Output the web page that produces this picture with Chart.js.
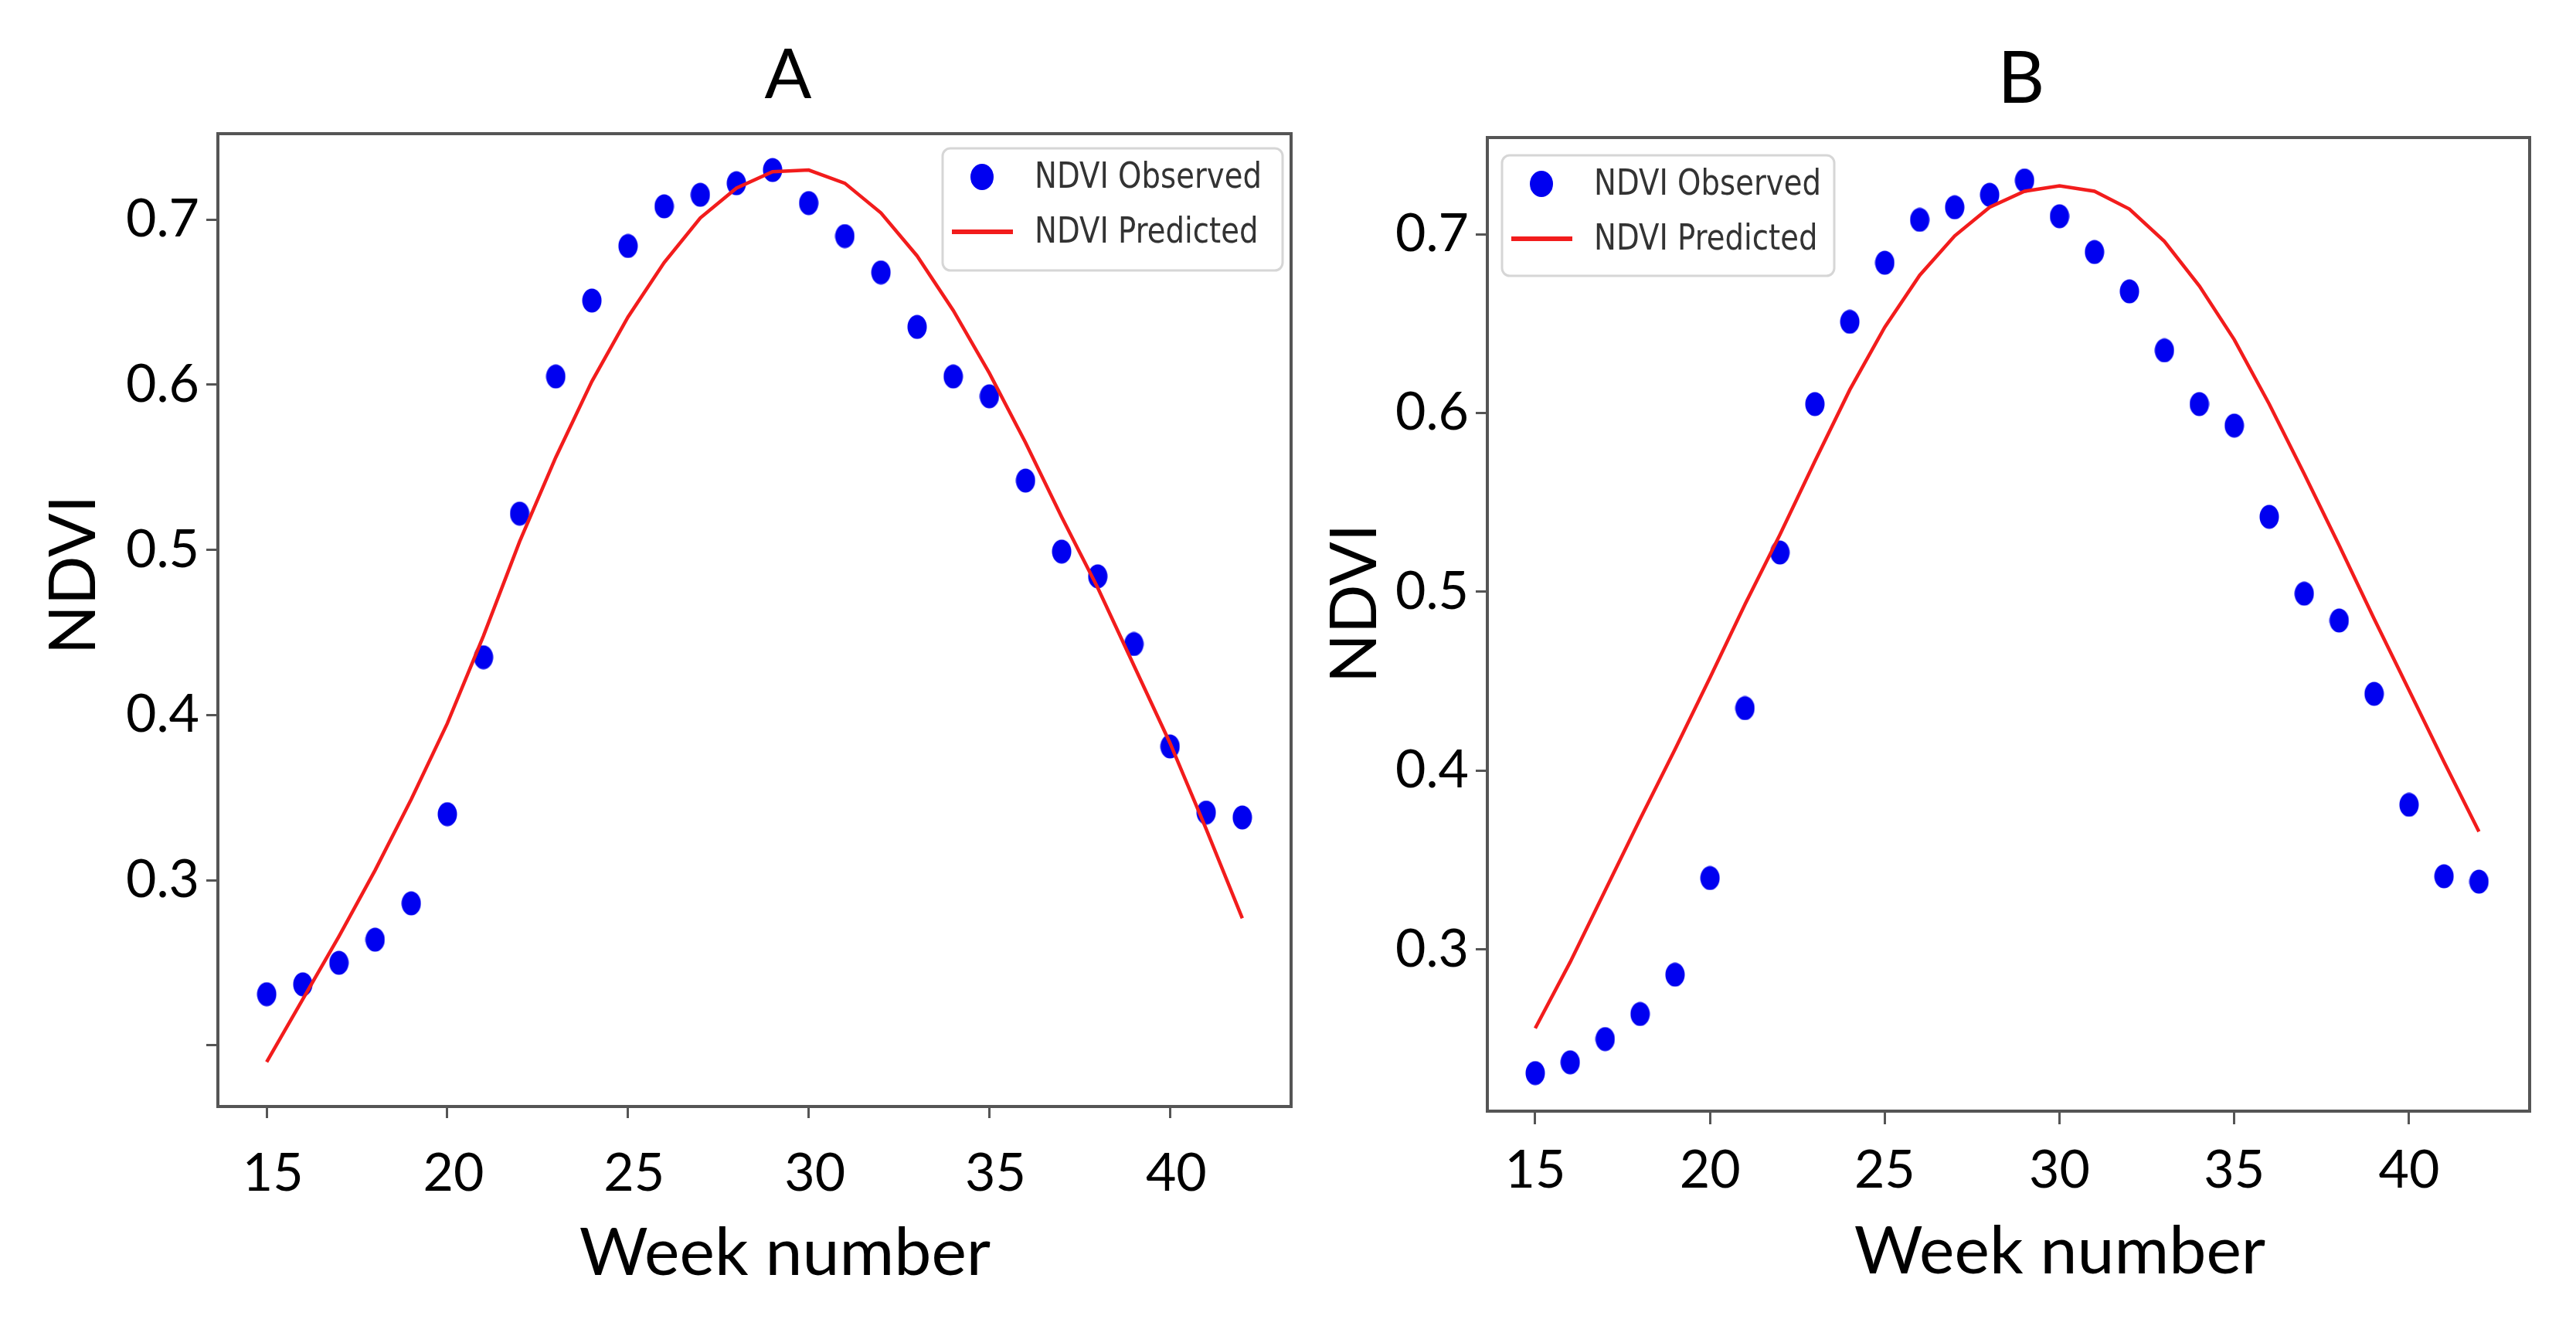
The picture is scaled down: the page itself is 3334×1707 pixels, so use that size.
<!DOCTYPE html>
<html lang="en">
<head>
  <meta charset="UTF-8">
  <title>NDVI Observed vs Predicted</title>
  <script src="https://cdn.jsdelivr.net/npm/chart.js"></script>
  <style>
    html, body { margin: 0; padding: 0; background: #fff; }
    #page { position: relative; width: 3334px; height: 1707px; }
    .panel { position: absolute; top: 0; }
  </style>
</head>
<body>
  <div id="page">
    <div class="panel" style="left:0px"><canvas id="chartA" width="1700" height="1707"></canvas></div>
    <div class="panel" style="left:1700px"><canvas id="chartB" width="1634" height="1707"></canvas></div>
  </div>

  <script>
    // data
    const weeks = [15, 16, 17, 18, 19, 20, 21, 22, 23, 24, 25, 26, 27, 28,
                   29, 30, 31, 32, 33, 34, 35, 36, 37, 38, 39, 40, 41, 42];
    const observedNdvi = [0.231, 0.237, 0.250, 0.264, 0.286, 0.340, 0.435, 0.522, 0.605, 0.651,
                          0.684, 0.708, 0.715, 0.722, 0.730, 0.710, 0.690, 0.668, 0.635, 0.605,
                          0.593, 0.542, 0.499, 0.484, 0.443, 0.381, 0.341, 0.338];
    const predictedA = [0.190, 0.228, 0.266, 0.306, 0.349, 0.395, 0.448, 0.505, 0.556, 0.602,
                        0.641, 0.674, 0.701, 0.719, 0.729, 0.730, 0.722, 0.704, 0.678, 0.645,
                        0.607, 0.565, 0.520, 0.477, 0.430, 0.383, 0.331, 0.277];
    const predictedB = [0.256, 0.293, 0.333, 0.373, 0.412, 0.452, 0.493, 0.532, 0.573, 0.613,
                        0.648, 0.677, 0.699, 0.715, 0.724, 0.727, 0.724, 0.714, 0.696, 0.671,
                        0.641, 0.605, 0.566, 0.526, 0.485, 0.445, 0.405, 0.366];

    const xTickValues = [15, 20, 25, 30, 35, 40];
    const yTickValues = [0.2, 0.3, 0.4, 0.5, 0.6, 0.7];
    const yTickLabelsA = ['', '0.3', '0.4', '0.5', '0.6', '0.7'];
    const yTickLabelsB = ['0.2', '0.3', '0.4', '0.5', '0.6', '0.7'];
    const seriesLabels = ['NDVI Observed', 'NDVI Predicted'];
    const xAxisTitle = 'Week number';
    const yAxisTitle = 'NDVI';

    const BLUE = '#0000f0';
    const RED = '#f21c1c';
    const FRAME = '#555555';

    // slightly tall blue dot, like the figure's markers
    function makeDot(w, h) {
      const c = document.createElement('canvas');
      c.width = w; c.height = h;
      const g = c.getContext('2d');
      g.fillStyle = BLUE;
      g.beginPath();
      g.ellipse(w / 2, h / 2, w / 2 - 0.5, h / 2 - 0.5, 0, 0, Math.PI * 2);
      g.fill();
      return c;
    }
    const dot = makeDot(26, 32);

    const framePlugin = {
      id: 'frame',
      afterDraw(chart) {
        const { ctx, chartArea: a } = chart;
        ctx.save();
        ctx.strokeStyle = FRAME;
        ctx.lineWidth = 4;
        ctx.strokeRect(a.left, a.top, a.right - a.left, a.bottom - a.top);
        ctx.restore();
      }
    };

    const legendPlugin = {
      id: 'boxLegend',
      afterDatasetsDraw(chart, args, o) {
        const { ctx, chartArea: a } = chart;
        const x0 = o.side === 'right' ? a.right - o.dx - o.width : a.left + o.dx;
        const y0 = a.top + o.dy;
        ctx.save();
        ctx.beginPath();
        ctx.roundRect(x0, y0, o.width, o.height, 10);
        ctx.fillStyle = 'rgba(255,255,255,0.85)';
        ctx.fill();
        ctx.lineWidth = 3;
        ctx.strokeStyle = '#d6d6d6';
        ctx.stroke();
        chart.data.datasets.forEach((ds, i) => {
          const cy = y0 + (i === 0 ? 37 : 108);
          if (ds.showLine) {
            ctx.strokeStyle = ds.borderColor;
            ctx.lineWidth = 6;
            ctx.beginPath();
            ctx.moveTo(x0 + 12, cy);
            ctx.lineTo(x0 + 91, cy);
            ctx.stroke();
          } else {
            ctx.fillStyle = ds.backgroundColor;
            ctx.beginPath();
            ctx.ellipse(x0 + 51, cy, 15, 17, 0, 0, Math.PI * 2);
            ctx.fill();
          }
          ctx.save();
          ctx.translate(x0 + 119, cy);
          ctx.scale(0.84, 1);
          ctx.fillStyle = '#333';
          ctx.font = '46px "DejaVu Sans"';
          ctx.textBaseline = 'middle';
          ctx.fillText(ds.label, 0, 2);
          ctx.restore();
        });
        ctx.restore();
      }
    };

    const textPlugin = {
      id: 'panelText',
      afterDraw(chart, args, o) {
        const ctx = chart.ctx;
        o.items.forEach(t => {
          ctx.save();
          ctx.translate(t.x, t.y);
          if (t.rotate) ctx.rotate(-Math.PI / 2);
          ctx.font = t.size + 'px Lato';
          ctx.fillStyle = '#000';
          ctx.textAlign = 'center';
          ctx.textBaseline = 'middle';
          ctx.fillText(t.text, 0, 0);
          ctx.restore();
        });
      }
    };

    function buildPanel(cfg) {
      const ctx = document.getElementById(cfg.id).getContext('2d');
      new Chart(ctx, {
        type: 'scatter',
        data: {
          datasets: [{
            label: seriesLabels[0],
            data: weeks.map((w, i) => ({ x: w, y: observedNdvi[i] })),
            pointStyle: dot,
            backgroundColor: BLUE,
            borderColor: BLUE,
            order: 2
          }, {
            label: seriesLabels[1],
            data: weeks.map((w, i) => ({ x: w, y: cfg.predicted[i] })),
            showLine: true,
            borderColor: RED,
            backgroundColor: RED,
            borderWidth: 4.5,
            pointRadius: 0,
            tension: 0,
            fill: false,
            order: 1
          }]
        },
        options: {
          responsive: false,
          animation: false,
          events: [],
          layout: { padding: { top: cfg.padTop, right: cfg.padRight, left: 0, bottom: 0 } },
          scales: {
            x: {
              type: 'linear',
              min: cfg.xMin,
              max: cfg.xMax,
              afterBuildTicks: axis => { axis.ticks = xTickValues.map(v => ({ value: v })); },
              afterFit: axis => { axis.height = cfg.xAxisHeight; },
              border: { display: false },
              grid: { drawOnChartArea: false, drawTicks: true, tickLength: cfg.tickLen, color: FRAME, lineWidth: 3 },
              ticks: {
                color: '#000',
                font: { family: 'Lato', size: 68 },
                padding: cfg.xLabelPad,
                labelOffset: cfg.xLabelShift,
                maxRotation: 0,
                callback: v => String(v)
              }
            },
            y: {
              type: 'linear',
              min: cfg.yMin,
              max: cfg.yMax,
              afterBuildTicks: axis => {
                axis.ticks = yTickValues.filter(v => v >= cfg.yMin && v <= cfg.yMax).map(v => ({ value: v }));
              },
              afterFit: axis => { axis.width = cfg.yAxisWidth; },
              border: { display: false },
              grid: { drawOnChartArea: false, drawTicks: true, tickLength: 15, color: FRAME, lineWidth: 3 },
              ticks: {
                color: '#000',
                font: { family: 'Lato', size: 68 },
                padding: 9,
                callback: v => {
                  const k = yTickValues.findIndex(t => Math.abs(t - v) < 1e-6);
                  return k < 0 ? '' : cfg.yTickLabels[k];
                }
              }
            }
          },
          plugins: {
            legend: { display: false },
            tooltip: { enabled: false },
            boxLegend: cfg.legend,
            panelText: { items: cfg.texts }
          }
        },
        plugins: [framePlugin, legendPlugin, textPlugin]
      });
    }

    buildPanel({
      id: 'chartA',
      predicted: predictedA,
      yTickLabels: yTickLabelsA,
      xMin: 13.65, xMax: 43.35,
      yMin: 0.163, yMax: 0.752,
      padTop: 173, padRight: 29,
      yAxisWidth: 282, xAxisHeight: 275,
      tickLen: 15, xLabelPad: 31, xLabelShift: 8,
      legend: { side: 'right', dx: 11, dy: 19, width: 440, height: 158 },
      texts: [
        { text: 'A', x: 1020, y: 98, size: 90 },
        { text: xAxisTitle, x: 1016, y: 1622, size: 86 },
        { text: yAxisTitle, x: 96, y: 744, size: 84, rotate: true }
      ]
    });

    buildPanel({
      id: 'chartB',
      predicted: predictedB,
      yTickLabels: yTickLabelsB,
      xMin: 13.63, xMax: 43.45,
      yMin: 0.2097, yMax: 0.754,
      padTop: 178, padRight: 60,
      yAxisWidth: 225, xAxisHeight: 269,
      tickLen: 17, xLabelPad: 19, xLabelShift: 0,
      legend: { side: 'left', dx: 19, dy: 23, width: 430, height: 156 },
      texts: [
        { text: 'B', x: 916, y: 103, size: 94 },
        { text: xAxisTitle, x: 966, y: 1620, size: 86 },
        { text: yAxisTitle, x: 54, y: 781, size: 84, rotate: true }
      ]
    });
  </script>
</body>
</html>
